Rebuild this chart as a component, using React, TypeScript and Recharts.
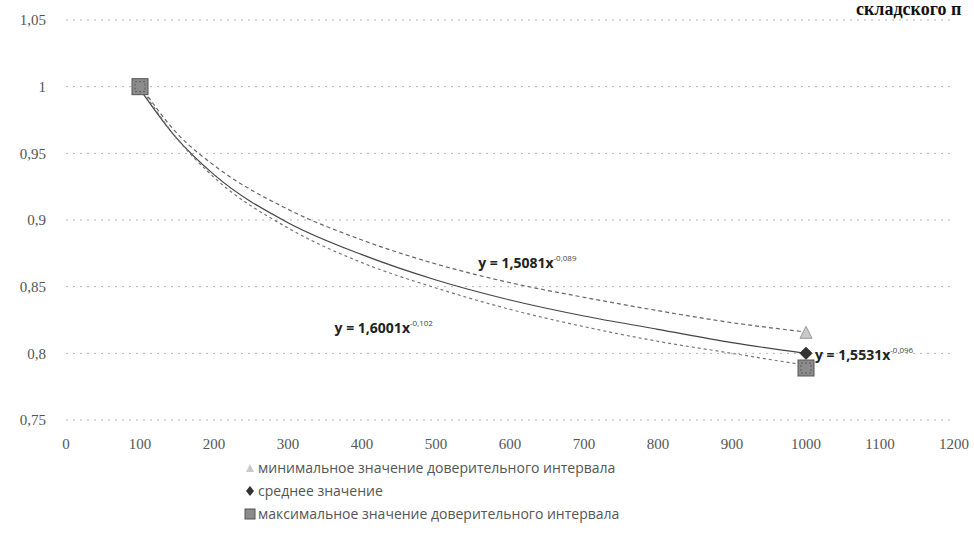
import React from 'react'
import { ComposedChart, Line, Scatter, XAxis, YAxis, CartesianGrid, Legend, ReferenceDot } from 'recharts'

// x values of the observations
const xPoints = [100, 1000]
// observed values
const minValues = [1.0, 0.815]
const meanValues = [1.0, 0.8]
const maxValues = [1.0, 0.789]

// power trendlines
const trendX = [100, 150, 200, 300, 400, 500, 600, 700, 800, 900, 1000]
const minTrend = [1.001, 0.965, 0.941, 0.908, 0.885, 0.867, 0.853, 0.842, 0.832, 0.823, 0.816]
const meanTrend = [0.998, 0.961, 0.934, 0.898, 0.874, 0.855, 0.84, 0.828, 0.818, 0.808, 0.8]
const maxTrend = [1.0, 0.961, 0.932, 0.894, 0.868, 0.849, 0.833, 0.82, 0.809, 0.8, 0.791]

const xTicks = [0, 100, 200, 300, 400, 500, 600, 700, 800, 900, 1000, 1100, 1200]
const yTicks = [0.75, 0.8, 0.85, 0.9, 0.95, 1, 1.05]

const seriesNames = [
  'минимальное значение доверительного интервала',
  'среднее значение',
  'максимальное значение доверительного интервала',
]

// equation labels: [x, y, coefficient, exponent]
const equations: Array<[number, number, string, string]> = [
  [557, 0.868, '1,5081', '-0,089'],
  [363, 0.819, '1,6001', '-0,102'],
  [1012, 0.799, '1,5531', '-0,096'],
]

const pts = (ys: number[]) => xPoints.map((x, i) => ({ x, y: ys[i] }))
const trend = (ys: number[]) => trendX.map((x, i) => ({ x, y: ys[i] }))

const fmt = (v: number) => (v === 1 ? '1' : String(v).replace('.', ','))

const Triangle = ({ cx, cy }: any) => (
  <path d={`M${cx},${cy - 7} L${cx + 6},${cy + 5} L${cx - 6},${cy + 5} Z`} fill="#c9c9c9" stroke="#9a9a9a" strokeWidth={1} />
)
const Diamond = ({ cx, cy }: any) => (
  <path d={`M${cx},${cy - 6} L${cx + 6},${cy} L${cx},${cy + 6} L${cx - 6},${cy} Z`} fill="#333" stroke="#222" strokeWidth={1} />
)
const Square = ({ cx, cy }: any) => (
  <g>
    <rect x={cx - 8} y={cy - 8} width={16} height={16} fill="#8c8c8c" stroke="#555" strokeWidth={1} />
    <rect x={cx - 5} y={cy - 5} width={10} height={10} fill="none" stroke="#5a5a5a" strokeWidth={1} strokeDasharray="2 2" />
  </g>
)

const EqLabel = ({ viewBox, coef, exp }: any) => {
  const { x, y } = viewBox
  return (
    <text x={x} y={y + 5} fontFamily="'Open Sans', sans-serif" fontWeight="bold" fontSize={14} fill="#222">
      y = {coef}x
      <tspan dy={-7} fontSize={8} fontWeight="normal" fill="#444">{exp}</tspan>
    </text>
  )
}

const LegendBox = () => {
  const icons = [
    <path key="t" d="M6,3 L10,11 L2,11 Z" fill="#c9c9c9" />,
    <path key="d" d="M6,2 L10,7 L6,12 L2,7 Z" fill="#333" />,
    <rect key="s" x={1} y={2} width={10} height={10} fill="#8c8c8c" stroke="#555" />,
  ]
  return (
    <div style={{ fontFamily: "'Open Sans', sans-serif", fontSize: 14, color: '#555' }}>
      {seriesNames.map((name, i) => (
        <div key={name} style={{ display: 'flex', alignItems: 'center', height: 23 }}>
          <svg width={12} height={14} style={{ marginRight: 2 }}>{icons[i]}</svg>
          <span>{name}</span>
        </div>
      ))}
    </div>
  )
}

export default function App() {
  return (
    <div style={{ position: 'absolute', left: 0, top: 0, width: 974, height: 533, background: '#fff', overflow: 'hidden' }}>
      <div
        style={{
          position: 'absolute',
          left: 856,
          top: 0,
          fontFamily: "'Liberation Serif', serif",
          fontWeight: 'bold',
          fontSize: 18,
          lineHeight: '18px',
          color: '#111',
          whiteSpace: 'nowrap',
        }}
      >
        складского п
      </div>
      <ComposedChart width={974} height={533} margin={{ top: 20, right: 20, bottom: 14, left: 16 }}>
        <CartesianGrid vertical={false} stroke="#b5b5b5" strokeDasharray="2 5" />
        <XAxis
          type="number"
          dataKey="x"
          domain={[0, 1200]}
          ticks={xTicks}
          axisLine={false}
          tickLine={false}
          tickMargin={12}
          height={30}
          tick={{ fontFamily: "'Liberation Serif', serif", fontSize: 15, fill: '#555' }}
        />
        <YAxis
          type="number"
          dataKey="y"
          domain={[0.75, 1.05]}
          ticks={yTicks}
          axisLine={false}
          tickLine={false}
          tickMargin={14}
          width={50}
          tickFormatter={fmt}
          tick={{ fontFamily: "'Liberation Serif', serif", fontSize: 15, fill: '#555' }}
        />
        <Line data={trend(minTrend)} dataKey="y" type="monotone" stroke="#666" strokeWidth={1.2} strokeDasharray="4 3" dot={false} isAnimationActive={false} legendType="none" />
        <Line data={trend(meanTrend)} dataKey="y" type="monotone" stroke="#444" strokeWidth={1.2} dot={false} isAnimationActive={false} legendType="none" />
        <Line data={trend(maxTrend)} dataKey="y" type="monotone" stroke="#777" strokeWidth={1.2} strokeDasharray="3 3" dot={false} isAnimationActive={false} legendType="none" />
        <Scatter name={seriesNames[0]} data={pts(minValues)} shape={<Triangle />} isAnimationActive={false} />
        <Scatter name={seriesNames[1]} data={pts(meanValues)} shape={<Diamond />} isAnimationActive={false} />
        <Scatter name={seriesNames[2]} data={pts(maxValues)} shape={<Square />} isAnimationActive={false} />
        {equations.map(([x, y, coef, exp]) => (
          <ReferenceDot key={coef} x={x} y={y} r={0} ifOverflow="visible" label={<EqLabel coef={coef} exp={exp} />} />
        ))}
        <Legend content={<LegendBox />} wrapperStyle={{ left: 244, top: 456, width: 500 }} />
      </ComposedChart>
    </div>
  )
}
